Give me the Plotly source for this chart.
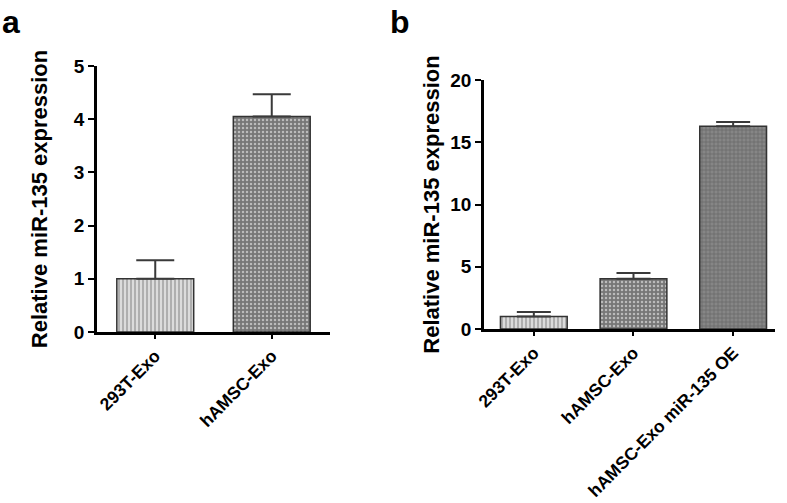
import plotly.graph_objects as go

W, H = 787, 503

cats_a = ["293T-Exo", "hAMSC-Exo"]
vals_a = [1.0, 4.05]
errs_a = [0.35, 0.42]

cats_b = ["293T-Exo", "hAMSC-Exo", "hAMSC-Exo miR-135 OE"]
vals_b = [1.01, 4.03, 16.28]
errs_b = [0.35, 0.46, 0.34]

ytick_a = [0, 1, 2, 3, 4, 5]
ytick_b = [0, 5, 10, 15, 20]

ytitle = "Relative miR-135 expression"

fills = ["#dcdcdc", "#777777", "#868686"]
pcolors = ["#f0f0f0", "#959595", "#a4a4a4"]
shapes = ["|", ".", "+"]

FONT = "Liberation Sans, Arial, sans-serif"

fig = go.Figure()

fig.add_trace(go.Bar(
    x=cats_a, y=vals_a, width=0.66,
    error_y=dict(type="data", array=errs_a, symmetric=False, arrayminus=[0] * len(errs_a),
                 color="#3a3a3a", thickness=2, width=19),
    marker=dict(color=fills[:2], line=dict(color="#333333", width=1.5),
                pattern=dict(shape=shapes[:2], fgcolor=pcolors[:2], fillmode="overlay",
                             size=4, solidity=0.3)),
    xaxis="x", yaxis="y", showlegend=False,
))

fig.add_trace(go.Bar(
    x=cats_b, y=vals_b, width=0.67,
    error_y=dict(type="data", array=errs_b, symmetric=False, arrayminus=[0] * len(errs_b),
                 color="#3a3a3a", thickness=2, width=17),
    marker=dict(color=fills, line=dict(color="#333333", width=1.5),
                pattern=dict(shape=shapes, fgcolor=pcolors, fillmode="overlay", size=4, solidity=0.3)),
    xaxis="x2", yaxis="y2", showlegend=False,
))

tickfont = dict(family=FONT, size=19, color="black", weight="bold")
xtickfont = dict(family=FONT, size=17.5, color="black", weight="bold")
titlefont = dict(family=FONT, size=22, color="black", weight="bold")
axis_common = dict(showline=True, linecolor="black", linewidth=2.5, showgrid=False, zeroline=False,
                   ticks="outside", tickcolor="black", tickwidth=2, automargin=False)

fig.update_layout(
    template="none",
    width=W, height=H,
    margin=dict(l=0, r=0, t=0, b=0),
    paper_bgcolor="white", plot_bgcolor="white",
    xaxis=dict(domain=[97 / W, 330 / W], range=[-0.5, 1.5], anchor="y", ticklen=4,
               tickangle=-45, tickfont=xtickfont, **axis_common),
    yaxis=dict(domain=[1 - 332 / H, 1 - 66 / H], range=[0, 5], anchor="x", ticklen=6,
               tickvals=ytick_a, tickfont=tickfont, **axis_common,
               title=dict(text=ytitle, font=titlefont, standoff=21)),
    xaxis2=dict(domain=[484 / W, 775 / W], range=[-0.5, 2.42], anchor="y2", ticklen=4,
                tickangle=-45, tickfont=xtickfont, **axis_common),
    yaxis2=dict(domain=[1 - 329 / H, 1 - 80 / H], range=[0, 20], anchor="x2", ticklen=6,
                tickvals=ytick_b, tickfont=tickfont, **axis_common,
                title=dict(text=ytitle, font=titlefont, standoff=5)),
    annotations=[
        dict(text="a", x=0 / W, y=1 - 2 / H, xref="paper", yref="paper", xanchor="left", yanchor="top",
             showarrow=False, font=dict(family=FONT, size=32, color="black", weight="bold")),
        dict(text="b", x=388 / W, y=1 - 2 / H, xref="paper", yref="paper", xanchor="left", yanchor="top",
             showarrow=False, font=dict(family=FONT, size=32, color="black", weight="bold")),
    ],
)

fig.write_html("out.html", config={"displayModeBar": False},
               post_script="document.body.style.margin='0';")
